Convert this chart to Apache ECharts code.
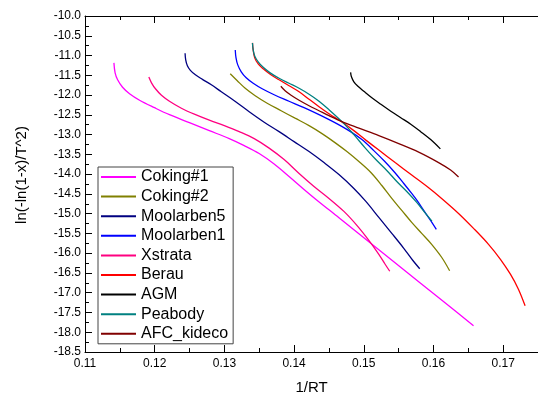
<!DOCTYPE html>
<html><head><meta charset="utf-8">
<script src="https://cdn.jsdelivr.net/npm/echarts@6/dist/echarts.min.js"></script>
<style>html,body{margin:0;padding:0;background:#fff}#c{width:538px;height:400px}</style>
</head><body><div id="c"></div>
<script>
const seriesNames = ['Coking#1','Coking#2','Moolarben5','Moolarben1','Xstrata','Berau','AGM','Peabody','AFC_kideco'];
const seriesColors = ['#FF00FF','#808000','#000080','#0000FF','#FF0080','#FF0000','#000000','#008080','#800000'];

const coking1 = [[0.11415,-11.185],[0.11432,-11.438],[0.11468,-11.614],[0.11539,-11.803],[0.11639,-11.967],[0.11783,-12.131],[0.11997,-12.320],[0.12212,-12.497],[0.12498,-12.699],[0.12784,-12.900],[0.13070,-13.102],[0.13285,-13.279],[0.13499,-13.480],[0.13714,-13.745],[0.13928,-14.061],[0.14143,-14.388],[0.14315,-14.641],[0.14644,-15.105],[0.15073,-15.713],[0.15431,-16.217],[0.15788,-16.721],[0.16175,-17.269],[0.16575,-17.836]];
const coking2 = [[0.13084,-11.463],[0.13185,-11.639],[0.13299,-11.829],[0.13442,-12.018],[0.13614,-12.207],[0.13814,-12.396],[0.14014,-12.585],[0.14215,-12.774],[0.14401,-12.976],[0.14587,-13.203],[0.14758,-13.430],[0.14930,-13.682],[0.15102,-13.960],[0.15259,-14.288],[0.15402,-14.615],[0.15545,-14.918],[0.15688,-15.221],[0.15831,-15.498],[0.15974,-15.776],[0.16117,-16.103],[0.16232,-16.444]];
const moolarben5 = [[0.12436,-10.941],[0.12445,-11.110],[0.12469,-11.261],[0.12512,-11.375],[0.12584,-11.488],[0.12684,-11.602],[0.12813,-11.740],[0.12956,-11.917],[0.13142,-12.144],[0.13356,-12.421],[0.13571,-12.686],[0.13785,-12.926],[0.14000,-13.178],[0.14215,-13.430],[0.14429,-13.708],[0.14644,-14.010],[0.14858,-14.363],[0.15030,-14.691],[0.15216,-15.095],[0.15402,-15.498],[0.15574,-15.877],[0.15702,-16.179],[0.15803,-16.394]];
const moolarben1 = [[0.13156,-10.858],[0.13167,-11.059],[0.13192,-11.236],[0.13242,-11.412],[0.13313,-11.564],[0.13413,-11.702],[0.13542,-11.841],[0.13714,-11.992],[0.13928,-12.156],[0.14143,-12.320],[0.14358,-12.497],[0.14572,-12.686],[0.14787,-12.900],[0.14973,-13.127],[0.15144,-13.405],[0.15302,-13.682],[0.15445,-13.960],[0.15574,-14.237],[0.15688,-14.489],[0.15774,-14.691],[0.15860,-14.918],[0.15953,-15.158],[0.16041,-15.397]];
const xstrata = [[0.11916,-11.546],[0.11954,-11.690],[0.12011,-11.841],[0.12097,-12.005],[0.12212,-12.156],[0.12383,-12.333],[0.12569,-12.484],[0.12784,-12.636],[0.12999,-12.774],[0.13213,-12.926],[0.13428,-13.102],[0.13642,-13.342],[0.13857,-13.632],[0.14072,-13.985],[0.14286,-14.313],[0.14501,-14.615],[0.14715,-14.943],[0.14901,-15.296],[0.15073,-15.675],[0.15216,-16.028],[0.15302,-16.267],[0.15373,-16.457]];
const berau = [[0.13403,-10.681],[0.13413,-10.858],[0.13435,-11.059],[0.13485,-11.211],[0.13557,-11.337],[0.13657,-11.475],[0.13785,-11.614],[0.13928,-11.765],[0.14072,-11.917],[0.14215,-12.106],[0.14358,-12.295],[0.14501,-12.472],[0.14687,-12.681],[0.14858,-12.900],[0.15030,-13.140],[0.15216,-13.392],[0.15455,-13.715],[0.15688,-14.023],[0.15931,-14.346],[0.16117,-14.615],[0.16360,-14.994],[0.16575,-15.372],[0.16790,-15.776],[0.16961,-16.154],[0.17104,-16.532],[0.17219,-16.911],[0.17315,-17.332]];
const agm = [[0.14811,-11.425],[0.14823,-11.539],[0.14858,-11.665],[0.14916,-11.778],[0.15001,-11.904],[0.15116,-12.068],[0.15245,-12.232],[0.15388,-12.409],[0.15531,-12.573],[0.15674,-12.737],[0.15817,-12.926],[0.15960,-13.127],[0.16099,-13.362]];
const peabody = [[0.13403,-10.681],[0.13413,-10.858],[0.13435,-11.009],[0.13485,-11.160],[0.13557,-11.299],[0.13657,-11.438],[0.13785,-11.576],[0.13928,-11.702],[0.14072,-11.829],[0.14215,-11.980],[0.14358,-12.156],[0.14501,-12.371],[0.14687,-12.673],[0.14858,-13.001],[0.15016,-13.329],[0.15173,-13.632],[0.15330,-13.909],[0.15474,-14.187],[0.15617,-14.439],[0.15760,-14.716],[0.15874,-14.969],[0.15978,-15.188]];
const afcKideco = [[0.13810,-11.778],[0.13871,-11.892],[0.13957,-12.005],[0.14072,-12.131],[0.14215,-12.270],[0.14358,-12.396],[0.14501,-12.522],[0.14687,-12.673],[0.14930,-12.837],[0.15216,-13.027],[0.15502,-13.228],[0.15788,-13.443],[0.16074,-13.708],[0.16246,-13.897],[0.16360,-14.073]];
const seriesData = [coking1, coking2, moolarben5, moolarben1, xstrata, berau, agm, peabody, afcKideco];

const xMin = 0.11, xMax = 0.175, xStep = 0.01;
const yMin = -18.5, yMax = -10, yStep = 0.5;
const xTitle = '1/RT';
const yTitle = 'ln(-ln(1-x)/T^2)';

const chart = echarts.init(document.getElementById('c'));
const labelFont = {fontFamily: 'Liberation Sans, Arial, sans-serif', fontSize: 12, color: '#000'};
chart.setOption({
  animation: false,
  grid: {left: 85, top: 16, right: -2, bottom: 47, containLabel: false},
  xAxis: [{
    type: 'value', min: xMin, max: xMax, interval: xStep, position: 'bottom',
    name: xTitle, nameLocation: 'middle', nameGap: 28,
    nameTextStyle: {fontFamily: 'Liberation Sans, Arial, sans-serif', fontSize: 15, color: '#000'},
    axisLine: {show: true, onZero: false, lineStyle: {color: '#000', width: 1}},
    axisTick: {show: true, inside: true, length: 7, lineStyle: {color: '#000'}},
    minorTick: {show: true, splitNumber: 2, length: 4, lineStyle: {color: '#000'}},
    splitLine: {show: false},
    axisLabel: Object.assign({margin: 6, showMaxLabel: false, formatter: v => Math.abs(v - xMax) < 1e-6 ? '' : v.toFixed(2)}, labelFont)
  }, {
    type: 'value', min: xMin, max: xMax, interval: xStep, position: 'top',
    axisLine: {show: true, onZero: false, lineStyle: {color: '#000', width: 1}},
    axisTick: {show: true, inside: true, length: 7, lineStyle: {color: '#000'}},
    minorTick: {show: true, splitNumber: 2, length: 4, lineStyle: {color: '#000'}},
    splitLine: {show: false}, axisLabel: {show: false}
  }],
  yAxis: {
    type: 'value', min: yMin, max: yMax, interval: yStep,
    axisLine: {show: true, onZero: false, lineStyle: {color: '#000', width: 1}},
    axisTick: {show: true, inside: true, length: 7, lineStyle: {color: '#000'}},
    minorTick: {show: true, splitNumber: 2, length: 4, lineStyle: {color: '#000'}},
    splitLine: {show: false},
    axisLabel: Object.assign({margin: 4, formatter: v => v.toFixed(1)}, labelFont)
  },
  legend: {
    orient: 'vertical', left: 98, top: 167, width: 131,
    padding: [2, 5, 2, 3], itemGap: 3.6, itemWidth: 35, itemHeight: 2, icon: 'rect',
    borderColor: '#444', borderWidth: 1,
    textStyle: {fontFamily: 'Liberation Sans, Arial, sans-serif', fontSize: 16, color: '#000', padding: [0,0,0,0]},
    data: seriesNames
  },
  graphic: [{
    type: 'text', x: 22, y: 175, rotation: Math.PI / 2,
    style: {text: yTitle, fontFamily: 'Liberation Sans, Arial, sans-serif', fontSize: 15, fill: '#000', textAlign: 'center', textVerticalAlign: 'middle'}
  }],
  series: seriesNames.map((n, i) => ({
    name: n, type: 'line', data: seriesData[i], smooth: 0.35, showSymbol: false, symbol: 'none',
    xAxisIndex: 0, color: seriesColors[i], lineStyle: {width: 1.3, color: seriesColors[i]}
  }))
});
</script></body></html>
